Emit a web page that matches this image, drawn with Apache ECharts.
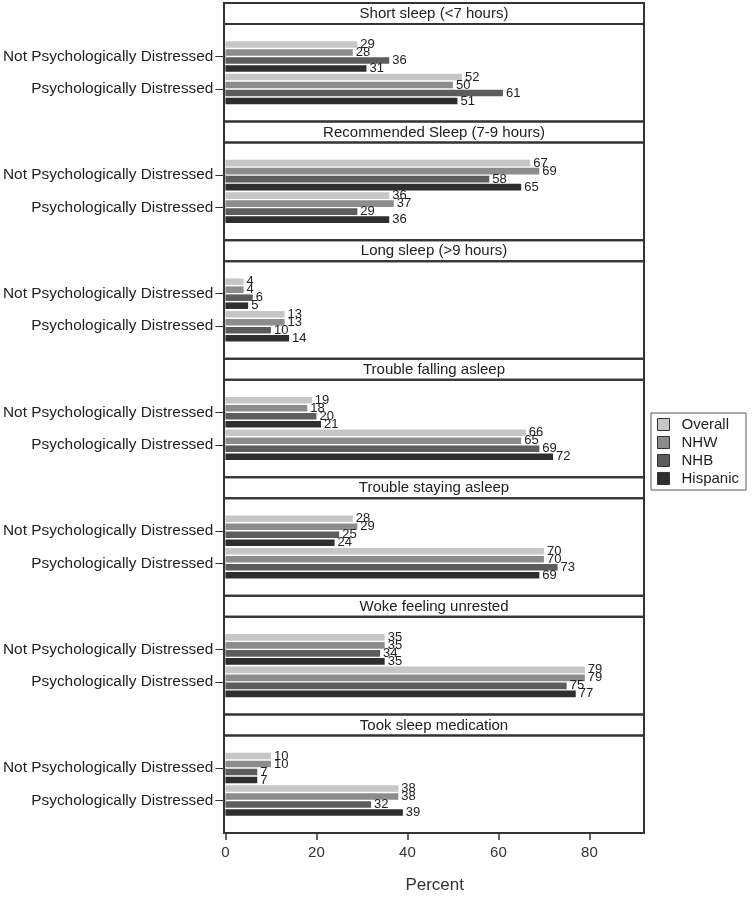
<!DOCTYPE html>
<html>
<head>
<meta charset="utf-8">
<script src="https://cdn.jsdelivr.net/npm/echarts@6/dist/echarts.min.js"></script>
<style>
html,body{margin:0;padding:0;background:#fff;}
#chart{width:753px;height:897px;}
</style>
</head>
<body>
<div id="chart"></div>
<script>
const categories = ['Not Psychologically Distressed', 'Psychologically Distressed'];
const panelTitles = ['Short sleep (<7 hours)', 'Recommended Sleep (7-9 hours)', 'Long sleep (>9 hours)',
  'Trouble falling asleep', 'Trouble staying asleep', 'Woke feeling unrested', 'Took sleep medication'];
const seriesNames = ['Overall', 'NHW', 'NHB', 'Hispanic'];
const overall  = [[29,52],[67,36],[4,13],[19,66],[28,70],[35,79],[10,38]];
const nhw      = [[28,50],[69,37],[4,13],[18,65],[29,70],[35,79],[10,38]];
const nhb      = [[36,61],[58,29],[6,10],[20,69],[25,73],[34,75],[7,32]];
const hispanic = [[31,51],[65,36],[5,14],[21,72],[24,69],[35,77],[7,39]];
const xTicks = [0, 20, 40, 60, 80];

const seriesData = [overall, nhw, nhb, hispanic];
const colors = ['#c6c6c6', '#8c8c8c', '#5c5c5c', '#2e2e2e'];
const FONT = '"Liberation Sans", Arial, sans-serif';

const L = 224, R = 644, TOP = 3, BOTTOM = 833;
const nP = panelTitles.length;
const period = (BOTTOM - TOP) / nP;
const headerH = 21;
const plotH = period - headerH;
const innerH = 65;
const innerPad = (plotH - innerH) / 2;

const grids = [], xAxes = [], yAxes = [], series = [], graphics = [];
for (let i = 0; i < nP; i++) {
  const y0 = TOP + i * period;
  const last = i === nP - 1;
  grids.push({left: L, width: R - L, top: y0 + headerH + innerPad, height: innerH, containLabel: false});
  xAxes.push({
    type: 'value', gridIndex: i, min: 0, max: 92, interval: 20,
    show: last, offset: last ? innerPad : 0,
    splitLine: {show: false},
    axisLine: {show: false},
    axisTick: {show: true, length: 7, customValues: xTicks, lineStyle: {color: '#333', width: 1.5}},
    axisLabel: {show: true, fontSize: 15, color: '#333', fontFamily: FONT, margin: 12, customValues: xTicks},
    name: last ? 'Percent' : '', nameLocation: 'middle', nameGap: 44,
    nameTextStyle: {fontSize: 17, color: '#333', fontFamily: FONT}
  });
  yAxes.push({
    type: 'category', gridIndex: i, data: categories, inverse: true,
    axisLine: {show: false},
    axisTick: {show: true, alignWithLabel: true, length: 10, lineStyle: {color: '#333', width: 1}},
    axisLabel: {fontSize: 15.4, color: '#222', fontFamily: FONT, margin: 12}
  });
  seriesNames.forEach((nm, s) => {
    series.push({
      name: nm, type: 'bar', xAxisIndex: i, yAxisIndex: i,
      data: seriesData[s][i],
      barCategoryGap: '6%', barGap: '22%',
      itemStyle: {color: colors[s]},
      label: {show: true, position: 'right', distance: 3, fontSize: 13, color: '#222', fontFamily: FONT},
      silent: true, animation: false
    });
  });
  graphics.push({type: 'rect', shape: {x: L, y: y0, width: R - L, height: headerH},
    style: {fill: 'none', stroke: '#333', lineWidth: 2}, z: 100});
  graphics.push({type: 'rect', shape: {x: L, y: y0 + headerH, width: R - L, height: plotH},
    style: {fill: 'none', stroke: '#333', lineWidth: 2}, z: 100});
  graphics.push({type: 'text', x: (L + R) / 2, y: y0 + headerH / 2 + 0.5,
    style: {text: panelTitles[i], fill: '#222', font: '15px ' + FONT, textAlign: 'center', textVerticalAlign: 'middle'}, z: 101});
}

const chart = echarts.init(document.getElementById('chart'), null, {renderer: 'canvas'});
chart.setOption({
  backgroundColor: '#fff',
  animation: false,
  textStyle: {fontFamily: FONT},
  grid: grids, xAxis: xAxes, yAxis: yAxes, series: series,
  legend: {
    data: seriesNames, orient: 'vertical', left: 651, top: 413,
    icon: 'rect', itemWidth: 12, itemHeight: 12, itemGap: 3,
    borderColor: '#555', borderWidth: 1, padding: [4, 7, 4, 6],
    itemStyle: {borderColor: '#333', borderWidth: 1},
    textStyle: {fontSize: 15, color: '#222', fontFamily: FONT, padding: [0, 0, 0, 7]},
    selectedMode: false
  },
  graphic: graphics
});
</script>
</body>
</html>
